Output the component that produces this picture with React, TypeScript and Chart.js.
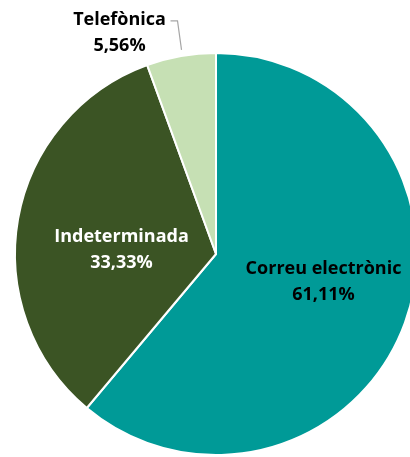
import React, { useEffect, useRef } from "react";
import { Chart, registerables } from "chart.js";

Chart.register(...registerables);

const categories = ["Correu electrònic", "Indeterminada", "Telefònica"];
const values = [61.11, 33.33, 5.56];
const valueLabels = ["61,11%", "33,33%", "5,56%"];
const colors = ["#009A97", "#3B5424", "#C6E0B4"];
const labelColors = ["#000000", "#FFFFFF", "#000000"];
// label offsets relative to the pie centre, as fractions of the radius
const labelOffsets = [
  [0.535, 0.14],
  [-0.47, -0.02],
  [-0.48, -1.1],
];

const labelPlugin = {
  id: "sliceLabels",
  afterDatasetsDraw(chart: any) {
    const ctx = chart.ctx;
    const meta = chart.getDatasetMeta(0);
    const arc0 = meta.data[0];
    const cx = arc0.x;
    const cy = arc0.y;
    const r = arc0.outerRadius;
    ctx.save();
    ctx.font = "bold 18px 'Open Sans'";
    ctx.textAlign = "center";
    ctx.textBaseline = "middle";
    categories.forEach((name, i) => {
      const x = cx + labelOffsets[i][0] * r;
      const y = cy + labelOffsets[i][1] * r;
      ctx.fillStyle = labelColors[i];
      ctx.fillText(name, x, y - 13);
      ctx.fillText(valueLabels[i], x, y + 13);
    });
    // leader line for the small slice
    const tx = cx + labelOffsets[2][0] * r;
    const ty = cy + labelOffsets[2][1] * r;
    ctx.strokeStyle = "#A6A6A6";
    ctx.lineWidth = 1.2;
    ctx.beginPath();
    ctx.moveTo(tx + 51, ty - 12);
    ctx.lineTo(tx + 58, ty - 12);
    ctx.lineTo(tx + 62, ty + 17);
    ctx.stroke();
    ctx.restore();
  },
};

export default function App() {
  const ref = useRef<HTMLCanvasElement>(null);
  useEffect(() => {
    if (!ref.current) return;
    const chart = new Chart(ref.current, {
      type: "pie",
      data: {
        labels: categories,
        datasets: [
          {
            data: values,
            backgroundColor: colors,
            borderColor: "#FFFFFF",
            borderWidth: 2,
          },
        ],
      },
      options: {
        responsive: true,
        maintainAspectRatio: false,
        animation: false,
        layout: { padding: { top: 52, bottom: 1, left: 14, right: 14 } },
        plugins: {
          legend: { display: false },
          tooltip: { enabled: false },
        },
      },
      plugins: [labelPlugin],
    });
    return () => chart.destroy();
  }, []);
  return (
    <div
      style={{
        position: "fixed",
        left: 0,
        top: 0,
        width: 410,
        height: 457,
        overflow: "hidden",
        background: "#fff",
      }}
    >
      <div style={{ position: "absolute", left: 0, top: 0, width: 432, height: 457 }}>
        <canvas ref={ref} />
      </div>
    </div>
  );
}
